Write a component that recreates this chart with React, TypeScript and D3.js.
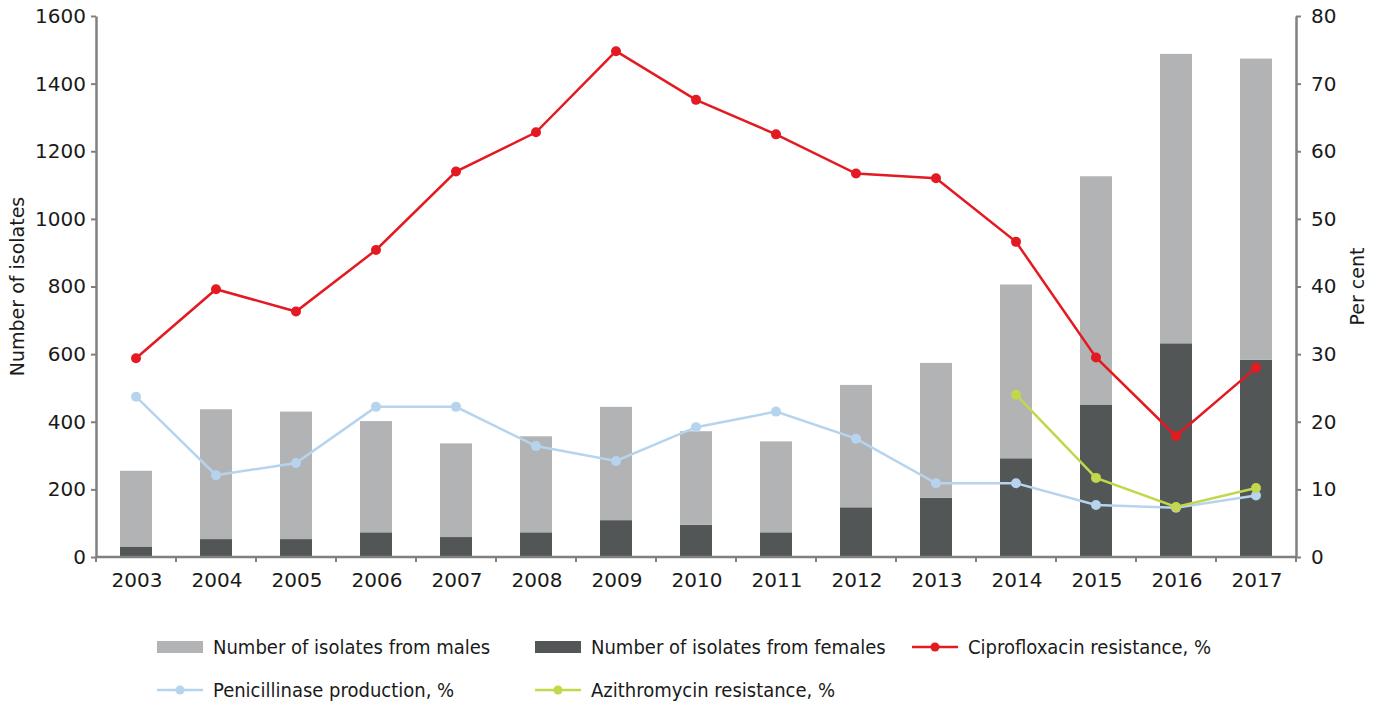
import { useEffect, useRef } from "react"
import * as d3 from "d3"

// Data
const years = ["2003", "2004", "2005", "2006", "2007", "2008", "2009", "2010", "2011", "2012", "2013", "2014", "2015", "2016", "2017"]
const totalIsolates = [255, 437, 430, 402, 336, 357, 444, 372, 342, 509, 574, 806, 1126, 1488, 1474]
const femaleIsolates = [31, 53, 53, 73, 59, 73, 109, 95, 73, 147, 175, 292, 451, 632, 583]
const maleIsolates = totalIsolates.map((t, i) => t - femaleIsolates[i])
const cipro = [29.4, 39.6, 36.3, 45.4, 57.0, 62.8, 74.8, 67.6, 62.5, 56.7, 56.0, 46.6, 29.5, 17.9, 28.0]
const penicillinase = [23.7, 12.1, 13.9, 22.2, 22.2, 16.4, 14.2, 19.2, 21.5, 17.5, 10.9, 10.9, 7.7, 7.3, 9.1]
const azithroYears = ["2014", "2015", "2016", "2017"]
const azithro = [24.0, 11.7, 7.4, 10.2]
const leftTicks = [0, 200, 400, 600, 800, 1000, 1200, 1400, 1600]
const rightTicks = [0, 10, 20, 30, 40, 50, 60, 70, 80]

const W = 1381
const H = 708
const FONT = "'DejaVu Sans', sans-serif"
const LEG_FONT = "'Liberation Sans Narrow', 'DejaVu Sans Condensed', 'Liberation Sans', sans-serif"
const AXIS = "#808080"
const C_MALE = "#b2b3b4"
const C_FEMALE = "#525657"
const C_CIPRO = "#e31a22"
const C_PEN = "#b6d4ee"
const C_AZI = "#c3d74c"

const App = () => {
  const svgRef = useRef<SVGSVGElement>(null)

  useEffect(() => {
    if (!svgRef.current) return
    const svg = d3.select(svgRef.current)
    svg.selectAll("*").remove()

    const left = 96
    const right = 1296
    const top = 16
    const bottom = 557

    const x = d3.scaleBand<string>().domain(years).range([left, right]).paddingInner(0.6).paddingOuter(0.3)
    const xc = (d: string) => (x(d) || 0) + x.bandwidth() / 2
    const yL = d3.scaleLinear().domain([0, 1600]).range([bottom, top])
    const yR = d3.scaleLinear().domain([0, 80]).range([bottom, top])

    // stacked bars (females at the bottom, males on top)
    const stackRows = years.map((y, i) => ({ year: y, female: femaleIsolates[i], male: maleIsolates[i] }))
    const series = d3.stack<any>().keys(["female", "male"])(stackRows)
    const colors: Record<string, string> = { female: C_FEMALE, male: C_MALE }
    svg
      .append("g")
      .selectAll("g")
      .data(series)
      .join("g")
      .attr("fill", (s) => colors[s.key])
      .selectAll("rect")
      .data((s) => s)
      .join("rect")
      .attr("x", (d: any) => x(d.data.year) || 0)
      .attr("width", x.bandwidth())
      .attr("y", (d) => yL(d[1]))
      .attr("height", (d) => yL(d[0]) - yL(d[1]))

    // axes
    const axisStyle = (g: any) => {
      g.select(".domain").attr("stroke", AXIS).attr("stroke-width", 2.5)
      g.selectAll(".tick line").attr("stroke", AXIS).attr("stroke-width", 2)
      g.selectAll("text").attr("fill", "#1a1a1a").attr("font-family", FONT).attr("font-size", 20)
    }
    svg
      .append("g")
      .attr("transform", `translate(${left},0)`)
      .call(d3.axisLeft(yL).tickValues(leftTicks).tickFormat(d3.format("d")).tickSize(5).tickSizeOuter(0).tickPadding(5))
      .call(axisStyle)
    svg
      .append("g")
      .attr("transform", `translate(${right},0)`)
      .call(d3.axisRight(yR).tickValues(rightTicks).tickFormat(d3.format("d")).tickSize(5).tickSizeOuter(0).tickPadding(10))
      .call(axisStyle)

    // x axis: ticks between categories
    const xg = svg.append("g")
    xg.append("line")
      .attr("x1", left)
      .attr("x2", right)
      .attr("y1", bottom)
      .attr("y2", bottom)
      .attr("stroke", AXIS)
      .attr("stroke-width", 2.5)
    const step = x.step()
    xg.selectAll("line.t")
      .data(d3.range(years.length + 1))
      .join("line")
      .attr("class", "t")
      .attr("x1", (i) => left + i * step)
      .attr("x2", (i) => left + i * step)
      .attr("y1", bottom)
      .attr("y2", bottom + 5)
      .attr("stroke", AXIS)
      .attr("stroke-width", 2)
    xg.selectAll("text")
      .data(years)
      .join("text")
      .attr("x", (d) => xc(d) + 1)
      .attr("y", bottom + 30)
      .attr("text-anchor", "middle")
      .attr("font-family", FONT)
      .attr("font-size", 20)
      .attr("fill", "#1a1a1a")
      .text((d) => d)

    // axis titles
    svg
      .append("text")
      .attr("transform", `translate(24,${(top + bottom) / 2}) rotate(-90)`)
      .attr("text-anchor", "middle")
      .attr("font-family", FONT)
      .attr("font-size", 19)
      .attr("fill", "#1a1a1a")
      .text("Number of isolates")
    svg
      .append("text")
      .attr("transform", `translate(1364,${(top + bottom) / 2}) rotate(-90)`)
      .attr("text-anchor", "middle")
      .attr("font-family", FONT)
      .attr("font-size", 19)
      .attr("fill", "#1a1a1a")
      .text("Per cent")

    // lines
    const drawLine = (xs: string[], vals: number[], color: string) => {
      const pts = xs.map((d, i) => [xc(d), yR(vals[i])] as [number, number])
      svg
        .append("path")
        .attr("d", d3.line()(pts))
        .attr("fill", "none")
        .attr("stroke", color)
        .attr("stroke-width", 2.5)
      svg
        .append("g")
        .selectAll("circle")
        .data(pts)
        .join("circle")
        .attr("cx", (p) => p[0])
        .attr("cy", (p) => p[1])
        .attr("r", 5)
        .attr("fill", color)
    }
    drawLine(years, penicillinase, C_PEN)
    drawLine(azithroYears, azithro, C_AZI)
    drawLine(years, cipro, C_CIPRO)

    // legend
    const legend = [
      { label: "Number of isolates from males", color: C_MALE, kind: "rect", x: 157, y: 647 },
      { label: "Number of isolates from females", color: C_FEMALE, kind: "rect", x: 535, y: 647 },
      { label: "Ciprofloxacin resistance, %", color: C_CIPRO, kind: "line", x: 912, y: 647 },
      { label: "Penicillinase production, %", color: C_PEN, kind: "line", x: 157, y: 690 },
      { label: "Azithromycin resistance, %", color: C_AZI, kind: "line", x: 535, y: 690 },
    ]
    const lg = svg.append("g").selectAll("g").data(legend).join("g").attr("transform", (d) => `translate(${d.x},${d.y})`)
    lg.each(function (d) {
      const g = d3.select(this)
      if (d.kind === "rect") {
        g.append("rect").attr("x", 0).attr("y", -6).attr("width", 46).attr("height", 12).attr("fill", d.color)
      } else {
        g.append("line").attr("x1", 0).attr("x2", 46).attr("y1", 0).attr("y2", 0).attr("stroke", d.color).attr("stroke-width", 2.5)
        g.append("circle").attr("cx", 23).attr("cy", 0).attr("r", 4.5).attr("fill", d.color)
      }
      g.append("text")
        .attr("x", 56)
        .attr("y", 7)
        .attr("font-family", LEG_FONT)
        .attr("font-size", 20)
        .attr("fill", "#1a1a1a")
        .text(d.label)
    })
  }, [])

  return (
    <svg
      ref={svgRef}
      width={W}
      height={H}
      style={{ position: "absolute", left: 0, top: 0, background: "#fff" }}
    />
  )
}

export default App
